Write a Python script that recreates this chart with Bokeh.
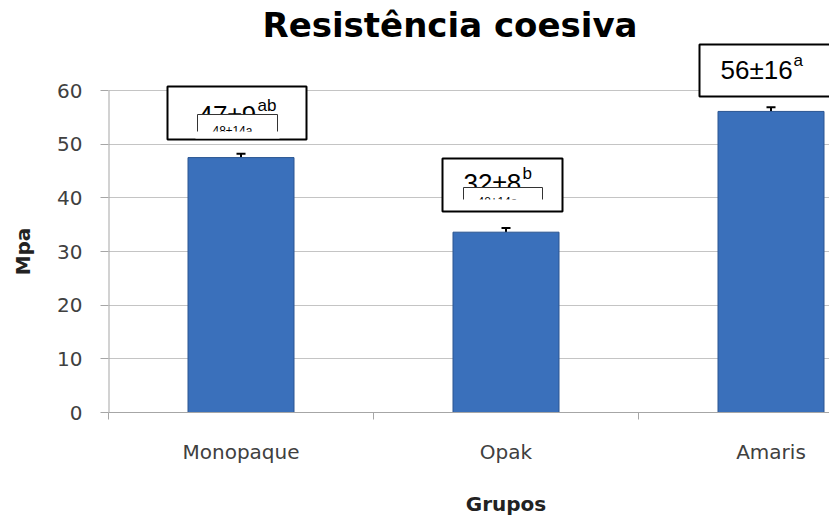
from bokeh.plotting import figure
from bokeh.models import (ColumnDataSource, FixedTicker, Label, BoxAnnotation,
                          Whisker, TeeHead, Range1d, LinearAxis)
from bokeh.embed import file_html
from bokeh.resources import INLINE

# ---------------- data ----------------
categories = ["Monopaque", "Opak", "Amaris"]
means = [47.5, 33.6, 56.1]
errors = [0.7, 0.8, 0.8]
stat_labels = ["47±9", "32±8", "56±16"]
stat_letters = ["ab", "b", "a"]
hidden_labels = ["48±14a", "48±14a"]
y_ticks = [0, 10, 20, 30, 40, 50, 60]
title_text = "Resistência coesiva"
y_label = "Mpa"
x_label = "Grupos"

# ---------------- layout (canvas px) ----------------
W, H = 829, 521
FRAME_L = 108     # x of frame left  (x = 0)
FRAME_B = 412     # y of frame bottom (y = 0)
PX_PER_Y = (412 - 90) / 60.0
PX_PER_CAT = 265.0


def sx(px):
    return px - FRAME_L


def sy(py):
    return FRAME_B - py


xpos = [i + 0.5 for i in range(len(categories))]
uppers = [m + e for m, e in zip(means, errors)]
src = ColumnDataSource(dict(x=xpos, cat=categories, value=means, upper=uppers))

y_end = FRAME_B / PX_PER_Y
x_end = (W - FRAME_L) / PX_PER_CAT

p = figure(width=W, height=H, title=None,
           x_range=Range1d(0, x_end), y_range=Range1d(0, y_end),
           toolbar_location=None, output_backend="svg",
           min_border_left=FRAME_L, min_border_right=0,
           min_border_top=0, min_border_bottom=H - FRAME_B,
           background_fill_color="white", border_fill_color="white")
p.outline_line_color = None

grey = "#a6a6a6"

# y-axis line only from first to last tick
p.segment(x0=[0], y0=[y_ticks[0]], x1=[0], y1=[y_ticks[-1]],
          line_color=grey, line_width=2)

# bars
p.vbar(x="x", top="value", width=0.40, source=src,
       fill_color="#3a70bb", line_color="#2a5591", line_width=1)

# error bars (upper only)
p.add_layout(Whisker(source=src, base="x", lower="value", upper="upper",
                     line_color="black", line_width=2,
                     upper_head=TeeHead(size=9, line_color="black", line_width=2),
                     lower_head=None))

# x axis
p.xaxis.ticker = FixedTicker(ticks=xpos, minor_ticks=[float(i) for i in range(len(categories))])
p.xaxis.major_label_overrides = {x: c for x, c in zip(xpos, categories)}
p.xaxis.major_tick_out = 0
p.xaxis.major_tick_in = 0
p.xaxis.minor_tick_out = 7
p.xaxis.minor_tick_in = 0
p.xaxis.minor_tick_line_color = grey
p.xaxis.axis_line_color = grey
p.xaxis.major_label_standoff = 20
p.xaxis.major_label_text_font = "DejaVu Sans"
p.xaxis.major_label_text_font_size = "20px"
p.xaxis.major_label_text_color = "#404040"

# y axis
p.yaxis.ticker = FixedTicker(ticks=y_ticks)
p.yaxis.major_tick_out = 8
p.yaxis.major_tick_in = 0
p.yaxis.minor_tick_line_color = None
p.yaxis.major_tick_line_color = grey
p.yaxis.axis_line_color = None
p.yaxis.major_label_standoff = 18
p.yaxis.major_label_text_font = "DejaVu Sans"
p.yaxis.major_label_text_font_size = "20px"
p.yaxis.major_label_text_color = "#404040"

# axis titles, centred on the data region
mid_y = (y_ticks[0] + y_ticks[-1]) / 2
ylab_axis = LinearAxis(ticker=FixedTicker(ticks=[mid_y]),
                       major_label_overrides={mid_y: y_label},
                       major_label_orientation="vertical",
                       major_label_standoff=14,
                       major_label_text_font="DejaVu Sans",
                       major_label_text_font_size="20px",
                       major_label_text_font_style="bold",
                       major_label_text_color="#222222",
                       axis_line_color=None, major_tick_line_color=None,
                       minor_tick_line_color=None)
p.add_layout(ylab_axis, "left")

mid_x = (xpos[0] + xpos[-1]) / 2
xlab_axis = LinearAxis(ticker=FixedTicker(ticks=[mid_x]),
                       major_label_overrides={mid_x: x_label},
                       major_label_standoff=19,
                       major_label_text_font="DejaVu Sans",
                       major_label_text_font_size="20px",
                       major_label_text_font_style="bold",
                       major_label_text_color="#222222",
                       axis_line_color=None, major_tick_line_color=None,
                       minor_tick_line_color=None)
p.add_layout(xlab_axis, "below")

p.xgrid.grid_line_color = None
p.ygrid.ticker = FixedTicker(ticks=y_ticks)
p.ygrid.grid_line_color = "#c4c4c4"
p.ygrid.grid_line_width = 1


def txt(x, y, s, size, font="Liberation Sans", bold=False, align="left"):
    # small correction: Bokeh's alphabetic baseline sits lower than the nominal y
    dy = 0.33 * size
    return Label(x=sx(x), y=sy(y - dy), x_units="screen", y_units="screen", text=s,
                 text_font=font, text_font_size=f"{size}px",
                 text_font_style="bold" if bold else "normal",
                 text_align=align, text_baseline="alphabetic", text_color="black")


def box(l, r, t, b, lw=2, lc="black"):
    return BoxAnnotation(left=sx(l), right=sx(r), top=sy(t), bottom=sy(b),
                         left_units="screen", right_units="screen",
                         top_units="screen", bottom_units="screen",
                         fill_color="white", fill_alpha=1.0,
                         line_color=lc if lc else "white",
                         line_alpha=1.0 if lc else 0.0,
                         line_width=lw)


# chart title (inside the frame area, which reaches the top of the canvas)
p.add_layout(txt(449.5, 36, title_text, 34, font="DejaVu Sans", bold=True, align="center"))

boxes = [
    dict(outer=(167, 306, 86, 139), main=(198, 122.6), sup=(257, 110.6),
         inner=(197, 277, 114, 131), tiny=(212, 134.6)),
    dict(outer=(442, 562, 158, 211), main=(463, 190.6), sup=(522, 178.6),
         inner=(463, 542, 187, 199), tiny=(477, 205.0)),
    dict(outer=(699, 850, 44, 96), main=(720, 77.6), sup=(793, 65.6),
         inner=None, tiny=None),
]

for i, b in enumerate(boxes):
    p.add_layout(box(*b["outer"]))
    p.add_layout(txt(b["main"][0], b["main"][1], stat_labels[i], 26))
    p.add_layout(txt(b["sup"][0], b["sup"][1], stat_letters[i], 17))
    if b["inner"] is not None:
        l, r, t, bot = b["inner"]
        p.add_layout(box(l, r, t, bot + 6, lw=1, lc="#333333"))
        p.add_layout(txt(b["tiny"][0], b["tiny"][1], hidden_labels[i], 12))
        p.add_layout(box(l - 2, r + 2, bot, bot + 7, lw=0, lc=None))

open("out.html", "w").write(file_html(p, INLINE))
